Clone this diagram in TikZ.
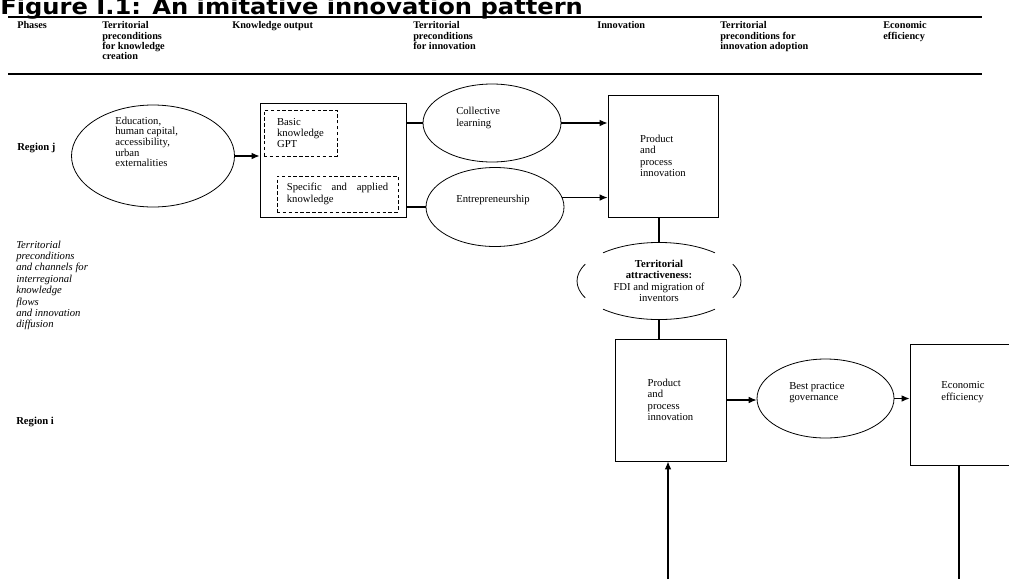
\documentclass[tikz,border=0pt]{standalone}
\usepackage{fontspec}
\setmainfont{Liberation Serif}
\newfontfamily\titlefont{DejaVu Sans}[FakeStretch=1.1]
\usetikzlibrary{arrows.meta, shapes.geometric}

\begin{document}
\begin{tikzpicture}[x=0.75pt, y=-0.75pt,
    every node/.style={font=\fontsize{8}{8.6}\selectfont},
    head/.style={anchor=north west, inner sep=0pt, align=left,
      font=\fontsize{7.7}{7.6}\selectfont\bfseries},
    txt/.style={anchor=north west, inner sep=0pt, align=left},
    factor/.style={ellipse, draw, line width=0.6pt, inner sep=0pt},
    phasebox/.style={rectangle, draw, line width=0.7pt, inner sep=0pt, align=left},
    subbox/.style={rectangle, draw, dash pattern=on 2.6pt off 1.8pt,
      line width=0.6pt, inner sep=0pt, align=left},
    link/.style={line width=0.8pt},
    flow/.style={line width=0.8pt, -{Latex[length=6pt,width=5pt]}},
    rule/.style={line width=1pt},
  ]
  \clip (0,0) rectangle (1009,579);

  % title and column heads
  \node[anchor=base west, inner sep=0pt,
    font=\titlefont\fontsize{16.5}{17}\selectfont\bfseries] (title) at (0,14)
    {Figure I.1: An imitative innovation pattern};
  \draw[rule] (8,17) -- (982,17);
  \draw[rule] (8,74) -- (982,74);
  \node[head] (hPhase) at (17,21.5) {Phases};
  \node[head] (hPreK) at (102,21.5) {Territorial\\preconditions\\for knowledge\\creation};
  \node[head] (hKnow) at (232,21.5) {Knowledge output};
  \node[head] (hPreI) at (413,21.5) {Territorial\\preconditions\\for innovation};
  \node[head] (hInno) at (597,21.5) {Innovation};
  \node[head] (hPreA) at (720,21.5) {Territorial\\preconditions for\\innovation adoption};
  \node[head] (hEff) at (883,21.5) {Economic\\efficiency};

  % rows
  \node[anchor=west, inner sep=0pt, font=\fontsize{8}{8.6}\selectfont\bfseries]
    (rowJ) at (17,148) {Region j};
  \node[txt, font=\fontsize{8}{8.55}\selectfont\itshape] (rowFlow) at (16,240.5)
    {Territorial\\preconditions\\and channels for\\interregional\\knowledge\\flows\\and innovation\\diffusion};
  \node[anchor=west, inner sep=0pt, font=\fontsize{8}{8.6}\selectfont\bfseries]
    (rowI) at (16,422) {Region i};

  % region j
  \node[factor, minimum width=122.25pt, minimum height=76.5pt] (edu) at (153,156) {};
  \node[txt, font=\fontsize{8}{8}\selectfont] (eduTxt) at (115,116.5)
    {Education,\\human capital,\\accessibility,\\urban\\externalities};
  \node[phasebox, minimum width=109.5pt, minimum height=85.5pt] (know) at (333,160) {};
  \node[subbox, minimum width=54.75pt, minimum height=34.5pt] (basic) at (300.5,133)
    {Basic\\knowledge\\GPT};
  \node[subbox, minimum width=90.75pt, minimum height=27pt, text width=76pt,
    align=justify] (spec) at (337.5,194) {Specific and applied knowledge};
  \node[factor, minimum width=103.5pt, minimum height=58.5pt] (coll) at (492,123) {};
  \node[txt, font=\fontsize{8}{9}\selectfont] (collTxt) at (456,106.5)
    {Collective\\learning};
  \node[factor, minimum width=103.5pt, minimum height=59.25pt] (entre) at (495,207) {};
  \node[txt] (entreTxt) at (456,194.5) {Entrepreneurship};
  \node[phasebox, minimum width=82.5pt, minimum height=91.5pt] (prodj) at (663,156)
    {Product\\and\\process\\innovation};

  \draw[flow] (edu.east) -- (edu.east -| know.west);
  \draw[link] (coll.west -| know.east) -- (coll.west);
  \draw[link] (entre.west -| know.east) -- (entre.west);
  \draw[flow] (coll.east) -- (coll.east -| prodj.west);
  \draw[flow] (entre.8) -- (entre.8 -| prodj.west);

  % channel between the regions
  \node[ellipse, inner sep=0pt, minimum width=123pt, minimum height=57.75pt,
    align=center] (attr) at (659,281)
    {\textbf{Territorial}\\\textbf{attractiveness:}\\FDI and migration of\\inventors};
  \foreach \a/\b in {-26/26, 47/133, 154/206, 227/313}
    \draw[line width=0.6pt] ([shift={(\a:61.5pt and 28.9pt)}]attr.center)
      arc[start angle=\a, end angle=\b, x radius=61.5pt, y radius=28.9pt];
  \draw[link] (attr.north) -- (attr.north |- prodj.south);

  % region i
  \node[phasebox, minimum width=83.25pt, minimum height=91.5pt] (prodi) at (670.5,400)
    {Product\\and\\process\\innovation};
  \node[factor, minimum width=102.75pt, minimum height=59.25pt] (gov) at (825.5,398.5) {};
  \node[txt, font=\fontsize{8}{8.25}\selectfont] (govTxt) at (789,382.5)
    {Best practice\\governance};
  \node[phasebox, minimum width=82.5pt, minimum height=90.75pt] (econ) at (965,404.5) {};
  \node[txt, font=\fontsize{8}{9}\selectfont] (econTxt) at (941,381.5)
    {Economic\\efficiency};
  \coordinate (inI) at (668,579);
  \coordinate (outE) at (959,579);

  \draw[link] (attr.south) -- (attr.south |- prodi.north);
  \draw[flow] (prodi.east) -- (prodi.east -| gov.west);
  \draw[flow] (gov.east) -- (gov.east -| econ.west);
  \draw[flow] (inI) -- (inI |- prodi.south);
  \draw[link] (outE |- econ.south) -- (outE);
\end{tikzpicture}
\end{document}
